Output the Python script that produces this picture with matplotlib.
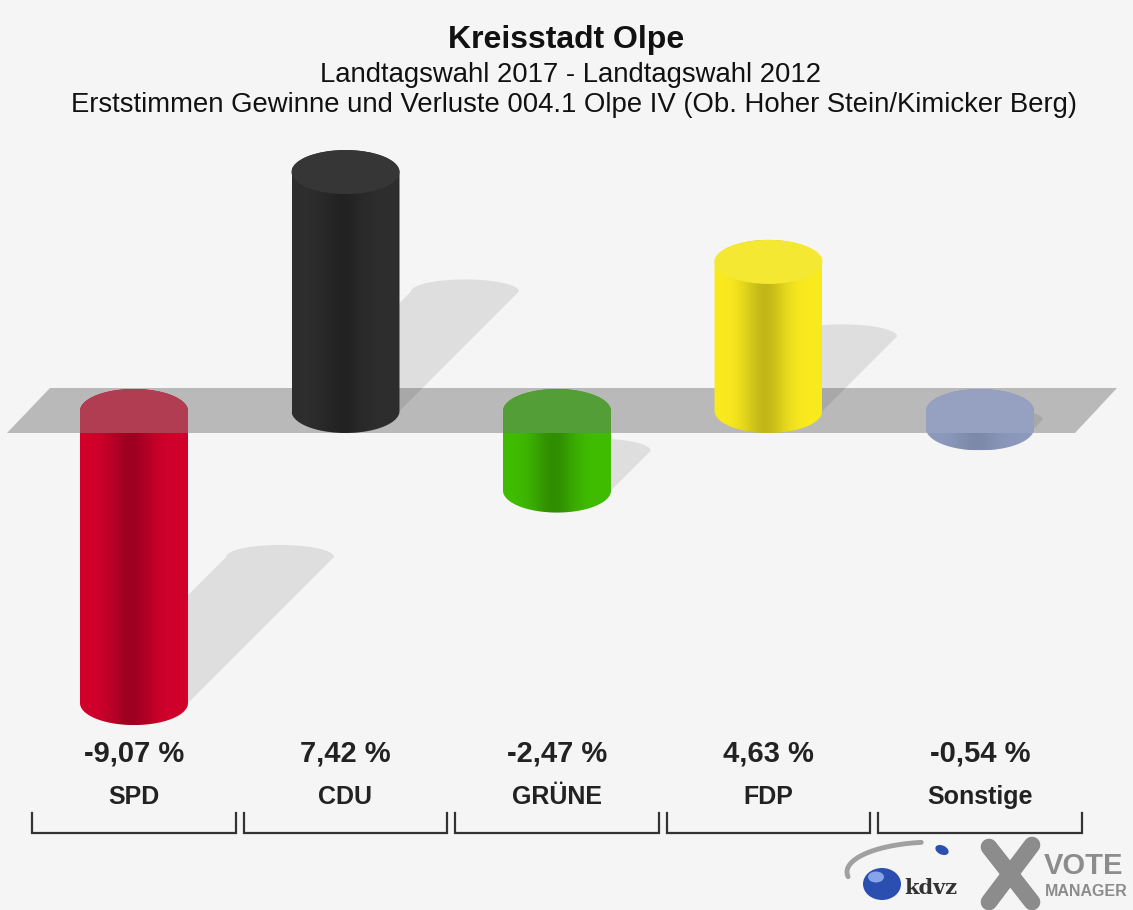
import numpy as np
import matplotlib
matplotlib.use('Agg')
from matplotlib import pyplot as plt
from matplotlib.patches import Polygon, Ellipse, PathPatch
from matplotlib.path import Path

parties = ['SPD', 'CDU', 'GRÜNE', 'FDP', 'Sonstige']
values = [-9.07, 7.42, -2.47, 4.63, -0.54]
labels = ['-9,07 %', '7,42 %', '-2,47 %', '4,63 %', '-0,54 %']
colors = [(0.82, 0.0, 0.17), (0.18, 0.18, 0.18), (0.25, 0.74, 0.0),
          (0.98, 0.92, 0.12), (0.55, 0.6, 0.74)]
cap_colors = [(0.69, 0.24, 0.32), (0.21, 0.21, 0.21), (0.33, 0.62, 0.22),
              (0.96, 0.91, 0.2), (0.59, 0.63, 0.76)]
shade_depth = [0.25, 0.25, 0.25, 0.22, 0.1]

title = 'Kreisstadt Olpe'
sub1 = 'Landtagswahl 2017 - Landtagswahl 2012'
sub2 = 'Erststimmen Gewinne und Verluste 004.1 Olpe IV (Ob. Hoher Stein/Kimicker Berg)'

W, H = 1133, 910
X0, DX = 134, 211.5     # pixel of first bar, pixels per category
Y0, DY = 411, 32.2      # pixel of zero line, pixels per percent
BG = '#f5f5f5'

fig = plt.figure(figsize=(W / 100, H / 100), dpi=100, facecolor=BG)
ax = fig.add_axes([0, 0, 1, 1])
ax.set_xlim(-X0 / DX, (W - X0) / DX)
ax.set_ylim((Y0 - H) / DY, Y0 / DY)
ax.axis('off')
ax.set_facecolor(BG)

r = 54 / DX     # cylinder radius in category units
eh = 22 / DY    # ellipse half height in percent units


def cyl_path(xc, lo, hi, rr=r, e=eh, shift=0.0, e_top=None):
    if e_top is None:
        e_top = e
    th1 = np.linspace(0, np.pi, 60)
    th2 = np.linspace(np.pi, 2 * np.pi, 60)
    top = np.c_[xc + shift + rr * np.cos(th1), hi + e_top * np.sin(th1)]
    bot = np.c_[xc + rr * np.cos(th2), lo + e * np.sin(th2)]
    pts = np.vstack([top, bot, top[:1]])
    return Path(pts, closed=True)


# plane
plane_pts = [((50 - X0) / DX, (Y0 - 388) / DY), ((1117 - X0) / DX, (Y0 - 388) / DY),
             ((1075 - X0) / DX, (Y0 - 433) / DY), ((7 - X0) / DX, (Y0 - 433) / DY)]
plane = Polygon(plane_pts, closed=True, facecolor='#b9b9b9', edgecolor='none', zorder=1)
ax.add_patch(plane)

t = np.linspace(0, 1, 200)

for i, v in enumerate(values):
    lo, hi = min(0, v), max(0, v)
    c = np.array(colors[i])
    shade = 1 - shade_depth[i] * np.exp(-((t - 0.47) / 0.2) ** 2)

    # shadow
    s = 0.5 * abs(v)
    sx = s * DY / DX
    sp = cyl_path(i, lo, lo + s, shift=sx, e_top=eh * 0.55)
    ax.add_patch(PathPatch(sp, facecolor='black', alpha=0.09, edgecolor='none', zorder=2))

    # body with gradient
    body = PathPatch(cyl_path(i, lo, hi), facecolor='none', edgecolor='none', zorder=3)
    ax.add_patch(body)
    grad = (c[None, None, :] * shade[None, :, None]).clip(0, 1)
    im = ax.imshow(grad, extent=(i - r, i + r, lo - eh, hi + eh), aspect='auto',
                   zorder=3, interpolation='bilinear')
    im.set_clip_path(body)

    if v > 0:
        ax.add_patch(Ellipse((i, hi), 2 * r, 2 * eh, facecolor=cap_colors[i],
                             edgecolor='none', zorder=4))
    else:
        ov = PathPatch(cyl_path(i, lo, hi), facecolor=cap_colors[i], edgecolor='none', zorder=4)
        ax.add_patch(ov)
        ov.set_clip_path(plane)

    # labels
    ax.text(i, (Y0 - 753) / DY, labels[i], ha='center', va='center', fontsize=21,
            fontweight='bold', color='#222222', family='Liberation Sans')
    ax.text(i, (Y0 - 797) / DY, parties[i], ha='center', va='center', fontsize=18,
            fontweight='bold', color='#222222', family='Liberation Sans')

    # bracket
    bx = [i - 0.482, i - 0.482, i + 0.482, i + 0.482]
    by = [(Y0 - 813) / DY, (Y0 - 833) / DY, (Y0 - 833) / DY, (Y0 - 813) / DY]
    ax.plot(bx, by, color='#333333', lw=1.6, solid_joinstyle='miter', zorder=5)

# titles
fig.text(566 / W, 1 - 40 / H, title, ha='center', va='center', fontsize=23,
         fontweight='bold', color='#111111', family='Liberation Sans')
fig.text(570 / W, 1 - 75 / H, sub1, ha='center', va='center', fontsize=19.8,
         color='#111111', family='Liberation Sans')
fig.text(574 / W, 1 - 105 / H, sub2, ha='center', va='center', fontsize=19.8,
         color='#111111', family='Liberation Sans')

# logo
lax = fig.add_axes([0, 0, 1, 1], facecolor='none')
lax.set_xlim(0, W)
lax.set_ylim(H, 0)
lax.axis('off')
th = np.linspace(np.pi * 0.55, np.pi * 1.05, 50)
lax.plot(935 + 88 * np.cos(th), 872 - 30 * np.sin(th), color='#a0a0a0', lw=3.5, solid_capstyle='round')
lax.add_patch(Ellipse((882, 884), 38, 32, facecolor='#2b4fb0', edgecolor='none'))
lax.add_patch(Ellipse((876, 877), 16, 11, facecolor='#86a4ea', edgecolor='none'))
lax.add_patch(Ellipse((942, 850), 14, 9, angle=25, facecolor='#2b4fb0', edgecolor='none'))
lax.text(931, 888, 'kdvz', fontsize=15, fontweight='bold', family='DejaVu Serif',
         color='#333333', ha='center', va='center')
lax.plot([989, 1032], [847, 902], color='#8c8c8c', lw=12, solid_capstyle='round')
lax.plot([1032, 989], [845, 902], color='#8c8c8c', lw=12, solid_capstyle='round')
lax.text(1044, 866, 'VOTE', fontsize=21, fontweight='bold', family='Liberation Sans',
         color='#8c8c8c', ha='left', va='center')
lax.text(1045, 891, 'MANAGER', fontsize=11.5, fontweight='bold', family='Liberation Sans',
         color='#8c8c8c', ha='left', va='center')

fig.savefig('out.png', dpi=100, facecolor=BG)
